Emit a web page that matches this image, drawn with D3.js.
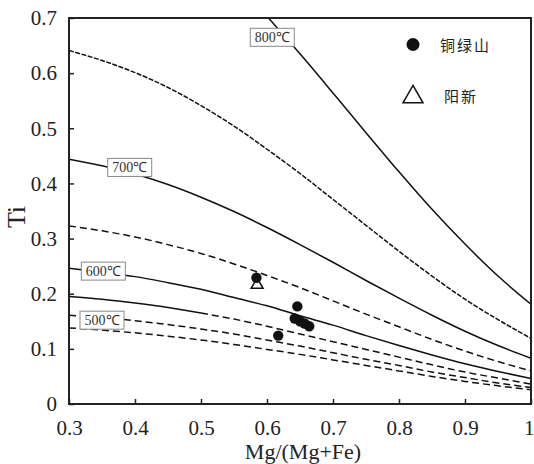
<!DOCTYPE html>
<html>
<head>
<meta charset="utf-8">
<script src="https://cdnjs.cloudflare.com/ajax/libs/d3/7.8.5/d3.min.js"></script>
<style>
body { margin:0; background:#fff; }
svg { display:block; }
.axis line { stroke:#222; stroke-width:1.5; }
.axis .domain { display:none; }
.frame { fill:none; stroke:#222; stroke-width:2; }
.iso { fill:none; stroke:#111; stroke-width:1.5; }
.temp-box { fill:#fff; stroke:#888; stroke-width:1; }
</style>
</head>
<body>
<script>
// Mg/(Mg+Fe) sample positions along the isotherms
var mgRatio = [0.30,0.35,0.40,0.45,0.50,0.55,0.60,0.65,0.70,0.75,0.80,0.85,0.90,0.95,1.00]
// Ti
var ti800 = [null,null,null,null,null,null,0.703,0.635,0.564,0.492,0.421,0.353,0.290,0.232,0.181]
var ti750 = [0.641,0.623,0.601,0.574,0.541,0.504,0.462,0.418,0.371,0.324,0.277,0.232,0.190,0.153,0.119]
var ti700 = [0.444,0.432,0.417,0.398,0.375,0.349,0.320,0.289,0.257,0.224,0.192,0.161,0.132,0.106,0.083]
var ti650 = [0.323,0.314,0.303,0.289,0.273,0.254,0.233,0.211,0.187,0.163,0.140,0.117,0.096,0.077,0.060]
var ti600 = [0.246,0.239,0.231,0.220,0.208,0.193,0.178,0.160,0.143,0.124,0.106,0.089,0.073,0.059,0.046]
var ti550 = [0.195,0.190,0.183,0.175,0.165,0.154,0.141,0.127,0.113,0.099,0.085,0.071,0.058,0.047,0.036]
var ti500 = [0.161,0.157,0.151,0.144,0.136,0.127,0.116,0.105,0.093,0.081,0.070,0.058,0.048,0.038,0.030]
var ti450 = [0.138,0.134,0.129,0.123,0.116,0.108,0.099,0.090,0.080,0.070,0.060,0.050,0.041,0.033,0.026]

// samples
var tlsX = [0.584,0.646,0.642,0.650,0.657,0.664,0.617]
var tlsTi = [0.229,0.177,0.155,0.150,0.146,0.141,0.124]
var yxX = [0.585]
var yxTi = [0.216]

var xTicks = [0.3,0.4,0.5,0.6,0.7,0.8,0.9,1]
var yTicks = [0,0.1,0.2,0.3,0.4,0.5,0.6,0.7]
var tempLabels = ["800℃","700℃","600℃","500℃"]
var seriesNames = ["铜绿山","阳新"]

var serif = "'Liberation Serif','Times New Roman',serif"
var margin = {left:69, top:18}
var width = 462
var height = 386

// solidTo: line is solid up to this Mg/(Mg+Fe), dashed after it
var isotherms = [
    {ti:ti800, dash:null},
    {ti:ti750, dash:"5,1.5"},
    {ti:ti700, dash:null},
    {ti:ti650, dash:"7,4"},
    {ti:ti600, dash:null},
    {ti:ti550, dash:"7,4", solidTo:0.5},
    {ti:ti500, dash:"7,4"},
    {ti:ti450, dash:"7,4"}
]

var x = d3.scaleLinear().domain([0.3,1]).range([0,width])
var y = d3.scaleLinear().domain([0,0.7]).range([height,0])

var svg = d3.select("body").append("svg").attr("width",534).attr("height",464)
svg.append("defs").append("clipPath").attr("id","plot-clip")
    .append("rect").attr("width",width).attr("height",height)

var g = svg.append("g").attr("transform","translate("+margin.left+","+margin.top+")")

//AXES
var xAxis = d3.axisBottom(x).tickValues(xTicks).tickSize(-5).tickPadding(16).tickFormat(function(d){return String(d)})
var yAxis = d3.axisLeft(y).tickValues(yTicks).tickSize(-5).tickPadding(12).tickFormat(function(d){return String(d)})
g.append("g").attr("class","x axis").attr("transform","translate(0,"+height+")").call(xAxis)
g.append("g").attr("class","y axis").call(yAxis)
g.selectAll(".axis text")
    .style("font-family",serif).style("font-size","21px").style("fill","#222")
// last x label sits on the right edge, keep it inside the picture
g.selectAll(".x.axis .tick text").filter(function(d){return d === 1})
    .attr("text-anchor","end").attr("x",3)

//ISOTHERMS
var line = d3.line()
    .defined(function(d){return d[1] !== null})
    .x(function(d){return x(d[0])})
    .y(function(d){return y(d[1])})
    .curve(d3.curveMonotoneX)

var isoGroup = g.append("g").attr("clip-path","url(#plot-clip)")
isotherms.forEach(function(iso){
    var pts = mgRatio.map(function(m,i){return [m,iso.ti[i]]})
    if (iso.solidTo) {
        isoGroup.append("path").attr("class","iso")
            .attr("d",line(pts.filter(function(p){return p[0] <= iso.solidTo})))
        isoGroup.append("path").attr("class","iso")
            .attr("stroke-dasharray",iso.dash)
            .attr("d",line(pts.filter(function(p){return p[0] >= iso.solidTo})))
    } else {
        isoGroup.append("path").attr("class","iso")
            .attr("stroke-dasharray",iso.dash)
            .attr("d",line(pts))
    }
})

//FRAME
g.append("rect").attr("class","frame").attr("width",width).attr("height",height)

//TEMPERATURE LABELS
var labelPos = [[0.608,0.665],[0.392,0.429],[0.352,0.241],[0.350,0.152]]
var labels = g.append("g").selectAll("g")
    .data(tempLabels)
    .enter().append("g")
    .attr("transform",function(d,i){return "translate("+x(labelPos[i][0])+","+y(labelPos[i][1])+")"})
labels.append("rect").attr("class","temp-box")
    .attr("x",-22).attr("y",-9).attr("width",44).attr("height",18)
labels.append("text")
    .attr("y",5).attr("text-anchor","middle")
    .style("font-family",serif).style("font-size","14px").style("fill","#333")
    .text(function(d){return d})

//SAMPLES
g.selectAll("path.yx")
    .data(yxX)
    .enter().append("path")
    .attr("class","yx")
    .attr("d",d3.symbol(d3.symbolTriangle,62))
    .attr("transform",function(d,i){return "translate("+x(d)+","+y(yxTi[i])+")"})
    .attr("fill","#fff").attr("stroke","#111").attr("stroke-width",1.5)
g.selectAll("circle.tls")
    .data(tlsX)
    .enter().append("circle")
    .attr("class","tls")
    .attr("cx",function(d){return x(d)})
    .attr("cy",function(d,i){return y(tlsTi[i])})
    .attr("r",5.2)
    .attr("fill","#111")

//LEGEND
svg.append("circle").attr("cx",413).attr("cy",44.5).attr("r",6.5).attr("fill","#111")
svg.append("path").attr("d",d3.symbol(d3.symbolTriangle,173))
    .attr("transform","translate(413,97)")
    .attr("fill","#fff").attr("stroke","#111").attr("stroke-width",1.5)
svg.selectAll("text.legend")
    .data(seriesNames)
    .enter().append("text")
    .attr("class","legend")
    .attr("x",function(d,i){return i ? 444 : 440})
    .attr("y",function(d,i){return i ? 102 : 50.5})
    .style("font-family","'Noto Sans CJK SC',sans-serif").style("font-size","15px")
    .style("letter-spacing","2px").style("fill","#222")
    .text(function(d){return d})

//AXIS TITLES
svg.append("text")
    .attr("x",margin.left+width/2+3).attr("y",459)
    .attr("text-anchor","middle")
    .style("font-family",serif).style("font-size","22px").style("fill","#222")
    .text("Mg/(Mg+Fe)")
svg.append("text")
    .attr("transform","translate(25,217) rotate(-90)")
    .attr("text-anchor","middle")
    .style("font-family",serif).style("font-size","26px").style("fill","#222")
    .text("Ti")
</script>
</body>
</html>
